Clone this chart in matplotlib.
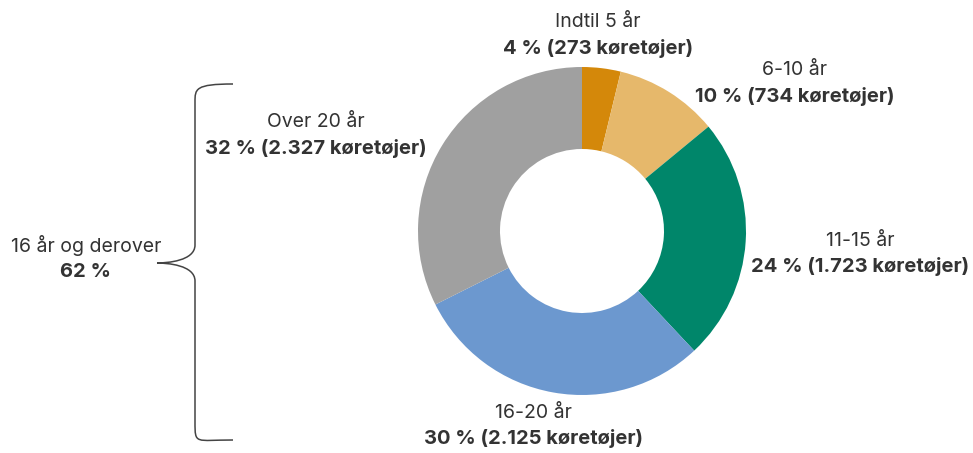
import matplotlib.pyplot as plt
from matplotlib.path import Path
from matplotlib.patches import PathPatch

labels = ['Indtil 5 år', '6-10 år', '11-15 år', '16-20 år', 'Over 20 år']
vehicles = [273, 734, 1723, 2125, 2327]
percent = [4, 10, 24, 30, 32]
colors = ['#D4880A', '#E6B86B', '#00866A', '#6C98CF', '#A0A0A0']
group_label = '16 år og derover'
group_percent = 62

plt.rcParams['font.family'] = ['Inter', 'DejaVu Sans']
txt = '#333333'
H = 453

fig = plt.figure(figsize=(9.73, 4.53), dpi=100)
ax = fig.add_axes([0, 0, 1, 1])
ax.set_xlim(0, 973)
ax.set_ylim(0, H)
ax.set_aspect('equal')
ax.axis('off')

ax.pie(vehicles, colors=colors, startangle=90, counterclock=False,
       center=(582, H - 231), radius=164,
       wedgeprops=dict(width=82, edgecolor='none'))
ax.set_xlim(0, 973)
ax.set_ylim(0, H)


def fmt(n):
    return f'{n:,}'.replace(',', '.')


# label centres in pixel coords (x, y of first line)
pos = [(598, 22), (795, 70), (860, 241), (533, 413), (316, 122)]
for lab, p, v, (x, y) in zip(labels, percent, vehicles, pos):
    ax.text(x, H - y, lab, ha='center', va='center', fontsize=14, color=txt)
    ax.text(x, H - y - 26, f'{p} % ({fmt(v)} køretøjer)', ha='center', va='center',
            fontsize=14.5, fontweight='bold', color=txt)

ax.text(86, H - 246, group_label, ha='center', va='center', fontsize=14, color=txt)
ax.text(86, H - 272, f'{group_percent} %', ha='center', va='center',
        fontsize=14.5, fontweight='bold', color=txt)

# curly brace
xe, xl, xt = 233, 195, 157
yt, ym, yb = H - 84, H - 263, H - 440
verts = [(xe, yt), (xl, yt), (xl, yt - 5), (xl, yt - 18),
         (xl, ym + 18),
         (xl, ym + 2), (xt + 10, ym), (xt, ym),
         (xt + 10, ym), (xl, ym - 2), (xl, ym - 18),
         (xl, yb + 18),
         (xl, yb - 5), (xl, yb), (xe, yb)]
codes = [Path.MOVETO, Path.CURVE4, Path.CURVE4, Path.CURVE4,
         Path.LINETO,
         Path.CURVE4, Path.CURVE4, Path.CURVE4,
         Path.CURVE4, Path.CURVE4, Path.CURVE4,
         Path.LINETO,
         Path.CURVE4, Path.CURVE4, Path.CURVE4]
ax.add_patch(PathPatch(Path(verts, codes), facecolor='none', edgecolor='#444444', lw=1.1))

fig.savefig('out.png', dpi=100)
